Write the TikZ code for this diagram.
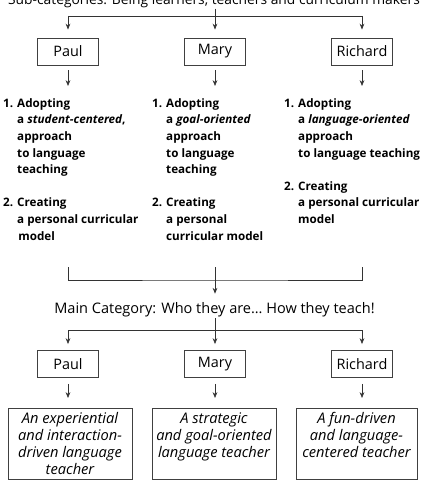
\documentclass[tikz,border=0pt]{standalone}
\usepackage{fontspec}
\setmainfont{Open Sans}
\usetikzlibrary{arrows.meta,positioning,calc}
\newcommand{\stepnum}[1]{\makebox[0.42cm][l]{#1}}
\newcommand{\stepind}{\hspace*{0.42cm}}

\begin{document}
\begin{tikzpicture}[x=0.03cm,y=-0.03cm,>={Stealth[length=5pt,width=4pt]},
  line/.style={draw=black!80,line width=0.6pt},
  namebox/.style={draw=black!75,line width=0.8pt,minimum width=1.83cm,minimum height=0.81cm,inner sep=0pt,font=\fontsize{12.3}{14}\selectfont},
  steptext/.style={anchor=north west,align=left,inner sep=0pt,font=\fontsize{9.95}{14.2}\selectfont\bfseries},
  typebox/.style={draw=black!75,line width=0.8pt,inner sep=0pt,anchor=north,font=\fontsize{12.5}{14.5}\selectfont\itshape},
  heading/.style={inner sep=0pt,anchor=base,font=\fontsize{12.4}{14}\selectfont}]
  \useasboundingbox (0,0) rectangle (426,486);
  % sub-categories
  \node[heading,font=\fontsize{11.8}{14}\selectfont] (sub) at (214,5) {Sub-categories: Being learners, teachers and curriculum makers};
  \coordinate (top) at (215,16);
  \coordinate (barL) at (68,16);
  \coordinate (barR) at (362,16);
  \draw[line] (sub.south -| top) -- (top);
  \draw[line] (barL) -- (barR);
  \node[namebox] (paulA) at (68,51.5) {Paul};
  \node[namebox] (maryA) at (215,51.5) {Mary};
  \node[namebox] (richA) at (362,51.5) {Richard};
  \foreach \b/\n in {barL/paulA,top/maryA,barR/richA}
    \draw[line,->,shorten >=0.24cm] (\b) -- (\n);
  \node[steptext] (stepP) at (3,98) {\stepnum{1.}Adopting\\
    \stepind a \textit{student-centered},\\
    \stepind approach\\
    \stepind to language\\
    \stepind teaching\\[14.2pt]
    \stepnum{2.}Creating\\
    \stepind a personal curricular\\
    \stepind\hspace{1pt}model};
  \node[steptext] (stepM) at (152,98) {\stepnum{1.}Adopting\\
    \stepind a \textit{goal-oriented}\\
    \stepind approach\\
    \stepind to language\\
    \stepind teaching\\[14.2pt]
    \stepnum{2.}Creating\\
    \stepind a personal\\
    \stepind curricular model};
  \node[steptext] (stepR) at (284,98) {\stepnum{1.}Adopting\\
    \stepind a \textit{language-oriented}\\
    \stepind approach\\
    \stepind to language teaching\\[14.2pt]
    \stepnum{2.}Creating\\
    \stepind a personal curricular\\
    \stepind model};
  \foreach \b in {paulA,maryA,richA}
    \draw[line,->,shorten <=0.15cm,shorten >=0.36cm] (\b) -- (\b |- stepP.north);
  % main category
  \coordinate (brL) at (68,267);
  \coordinate (brR) at (362,267);
  \coordinate (brM) at (215,280);
  \draw[line] (brL) |- (brM) -| (brR);
  \node[heading] (main) at (214.5,313) {Main Category: Who they are… How they teach!};
  \draw[line,->,shorten >=0.24cm] (brM |- brL) -- (brM |- main.north);
  \coordinate (top2) at (215,330);
  \coordinate (barL2) at (68,330);
  \coordinate (barR2) at (362,330);
  \draw[line,shorten <=0.04cm] (main.south -| top2) -- (top2);
  \draw[line] (barL2) -- (barR2);
  \node[namebox] (paulB) at (68,364) {Paul};
  \node[namebox] (maryB) at (215,364) {Mary};
  \node[namebox] (richB) at (362,364) {Richard};
  \foreach \b/\n in {barL2/paulB,top2/maryB,barR2/richB}
    \draw[line,->,shorten >=0.18cm] (\b) -- (\n);
  \node[typebox] (paulC) at (70,408) {\parbox[c][2.13cm][t]{3.72cm}{\centering\vspace{3.5pt}An experiential\\ and interaction-\\ driven language\\ teacher}};
  \node[typebox] (maryC) at (214,408) {\parbox[c][2.13cm][t]{3.72cm}{\centering\vspace{3.5pt}A strategic\\ and goal-oriented\\ language teacher}};
  \node[typebox] (richC) at (356.5,408) {\parbox[c][2.13cm][t]{3.63cm}{\centering\vspace{3.5pt}A fun-driven\\ and language-\\ centered teacher}};
  \foreach \b/\n in {paulB/paulC,maryB/maryC,richB/richC}
    \draw[line,->,shorten <=0.18cm,shorten >=0.3cm] (\b) -- (\b |- \n.north);
\end{tikzpicture}
\end{document}
